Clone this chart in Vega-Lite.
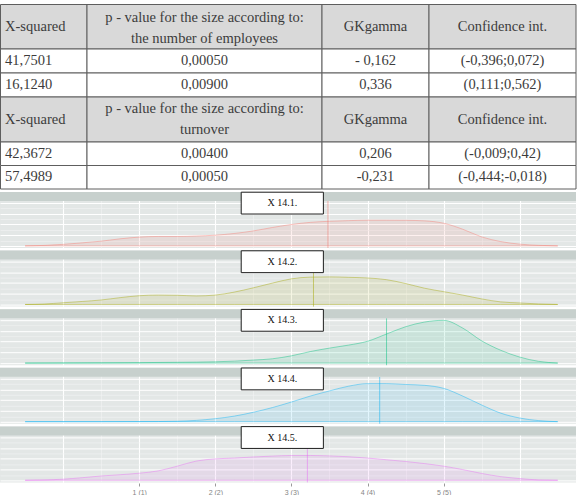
{
  "$schema": "https://vega.github.io/schema/vega-lite/v6.json",
  "padding": 0,
  "background": "#ffffff",
  "spacing": 3,
  "bounds": "flush",
  "config": {"view": {"stroke": null}},
  "datasets": {
    "cells": [
      {"r": 0, "r2": 1, "c": 0, "c2": 1, "hdr": "y", "t": "X-squared"},
      {"r": 0, "r2": 1, "c": 1, "c2": 2, "hdr": "y", "t": "p - value for the size according to:\nthe number of employees"},
      {"r": 0, "r2": 1, "c": 2, "c2": 3, "hdr": "y", "t": "GKgamma"},
      {"r": 0, "r2": 1, "c": 3, "c2": 4, "hdr": "y", "t": "Confidence int."},
      {"r": 1, "r2": 2, "c": 0, "c2": 1, "hdr": "n", "t": "41,7501"},
      {"r": 1, "r2": 2, "c": 1, "c2": 2, "hdr": "n", "t": "0,00050"},
      {"r": 1, "r2": 2, "c": 2, "c2": 3, "hdr": "n", "t": "- 0,162"},
      {"r": 1, "r2": 2, "c": 3, "c2": 4, "hdr": "n", "t": "(-0,396;0,072)"},
      {"r": 2, "r2": 3, "c": 0, "c2": 1, "hdr": "n", "t": "16,1240"},
      {"r": 2, "r2": 3, "c": 1, "c2": 2, "hdr": "n", "t": "0,00900"},
      {"r": 2, "r2": 3, "c": 2, "c2": 3, "hdr": "n", "t": "0,336"},
      {"r": 2, "r2": 3, "c": 3, "c2": 4, "hdr": "n", "t": "(0,111;0,562)"},
      {"r": 3, "r2": 4, "c": 0, "c2": 1, "hdr": "y", "t": "X-squared"},
      {"r": 3, "r2": 4, "c": 1, "c2": 2, "hdr": "y", "t": "p - value for the size according to:\nturnover"},
      {"r": 3, "r2": 4, "c": 2, "c2": 3, "hdr": "y", "t": "GKgamma"},
      {"r": 3, "r2": 4, "c": 3, "c2": 4, "hdr": "y", "t": "Confidence int."},
      {"r": 4, "r2": 5, "c": 0, "c2": 1, "hdr": "n", "t": "42,3672"},
      {"r": 4, "r2": 5, "c": 1, "c2": 2, "hdr": "n", "t": "0,00400"},
      {"r": 4, "r2": 5, "c": 2, "c2": 3, "hdr": "n", "t": "0,206"},
      {"r": 4, "r2": 5, "c": 3, "c2": 4, "hdr": "n", "t": "(-0,009;0,42)"},
      {"r": 5, "r2": 6, "c": 0, "c2": 1, "hdr": "n", "t": "57,4989"},
      {"r": 5, "r2": 6, "c": 1, "c2": 2, "hdr": "n", "t": "0,00050"},
      {"r": 5, "r2": 6, "c": 2, "c2": 3, "hdr": "n", "t": "-0,231"},
      {"r": 5, "r2": 6, "c": 3, "c2": 4, "hdr": "n", "t": "(-0,444;-0,018)"}
    ],
    "dens": [
      {"item": "X 14.1.", "mean": 3.48},
      {"item": "X 14.2.", "mean": 3.29},
      {"item": "X 14.3.", "mean": 4.25},
      {"item": "X 14.4.", "mean": 4.16},
      {"item": "X 14.5.", "mean": 3.21},

      {"item": "X 14.1.", "v": -0.5, "d": 0},
      {"item": "X 14.1.", "v": -0.25, "d": 0.01},
      {"item": "X 14.1.", "v": 0, "d": 0.035},
      {"item": "X 14.1.", "v": 0.25, "d": 0.07},
      {"item": "X 14.1.", "v": 0.5, "d": 0.11},
      {"item": "X 14.1.", "v": 0.75, "d": 0.165},
      {"item": "X 14.1.", "v": 1, "d": 0.205},
      {"item": "X 14.1.", "v": 1.25, "d": 0.22},
      {"item": "X 14.1.", "v": 1.5, "d": 0.22},
      {"item": "X 14.1.", "v": 1.75, "d": 0.23},
      {"item": "X 14.1.", "v": 2, "d": 0.25},
      {"item": "X 14.1.", "v": 2.25, "d": 0.29},
      {"item": "X 14.1.", "v": 2.5, "d": 0.35},
      {"item": "X 14.1.", "v": 2.75, "d": 0.43},
      {"item": "X 14.1.", "v": 3, "d": 0.5},
      {"item": "X 14.1.", "v": 3.25, "d": 0.55},
      {"item": "X 14.1.", "v": 3.5, "d": 0.575},
      {"item": "X 14.1.", "v": 3.75, "d": 0.59},
      {"item": "X 14.1.", "v": 4, "d": 0.6},
      {"item": "X 14.1.", "v": 4.25, "d": 0.6},
      {"item": "X 14.1.", "v": 4.5, "d": 0.598},
      {"item": "X 14.1.", "v": 4.75, "d": 0.585},
      {"item": "X 14.1.", "v": 5, "d": 0.53},
      {"item": "X 14.1.", "v": 5.25, "d": 0.39},
      {"item": "X 14.1.", "v": 5.5, "d": 0.21},
      {"item": "X 14.1.", "v": 5.75, "d": 0.1},
      {"item": "X 14.1.", "v": 6, "d": 0.04},
      {"item": "X 14.1.", "v": 6.25, "d": 0.012},
      {"item": "X 14.1.", "v": 6.5, "d": 0},

      {"item": "X 14.2.", "v": -0.5, "d": 0},
      {"item": "X 14.2.", "v": -0.25, "d": 0.01},
      {"item": "X 14.2.", "v": 0, "d": 0.04},
      {"item": "X 14.2.", "v": 0.25, "d": 0.07},
      {"item": "X 14.2.", "v": 0.5, "d": 0.105},
      {"item": "X 14.2.", "v": 0.75, "d": 0.16},
      {"item": "X 14.2.", "v": 1, "d": 0.205},
      {"item": "X 14.2.", "v": 1.25, "d": 0.22},
      {"item": "X 14.2.", "v": 1.5, "d": 0.215},
      {"item": "X 14.2.", "v": 1.75, "d": 0.2},
      {"item": "X 14.2.", "v": 2, "d": 0.22},
      {"item": "X 14.2.", "v": 2.25, "d": 0.29},
      {"item": "X 14.2.", "v": 2.5, "d": 0.39},
      {"item": "X 14.2.", "v": 2.75, "d": 0.5},
      {"item": "X 14.2.", "v": 3, "d": 0.6},
      {"item": "X 14.2.", "v": 3.25, "d": 0.64},
      {"item": "X 14.2.", "v": 3.5, "d": 0.645},
      {"item": "X 14.2.", "v": 3.75, "d": 0.635},
      {"item": "X 14.2.", "v": 4, "d": 0.62},
      {"item": "X 14.2.", "v": 4.25, "d": 0.58},
      {"item": "X 14.2.", "v": 4.5, "d": 0.49},
      {"item": "X 14.2.", "v": 4.75, "d": 0.38},
      {"item": "X 14.2.", "v": 5, "d": 0.3},
      {"item": "X 14.2.", "v": 5.25, "d": 0.22},
      {"item": "X 14.2.", "v": 5.5, "d": 0.13},
      {"item": "X 14.2.", "v": 5.75, "d": 0.06},
      {"item": "X 14.2.", "v": 6, "d": 0.035},
      {"item": "X 14.2.", "v": 6.25, "d": 0.012},
      {"item": "X 14.2.", "v": 6.5, "d": 0},

      {"item": "X 14.3.", "v": -0.5, "d": 0},
      {"item": "X 14.3.", "v": 0, "d": 0.003},
      {"item": "X 14.3.", "v": 0.5, "d": 0.006},
      {"item": "X 14.3.", "v": 1, "d": 0.01},
      {"item": "X 14.3.", "v": 1.5, "d": 0.018},
      {"item": "X 14.3.", "v": 2, "d": 0.03},
      {"item": "X 14.3.", "v": 2.25, "d": 0.045},
      {"item": "X 14.3.", "v": 2.5, "d": 0.07},
      {"item": "X 14.3.", "v": 2.75, "d": 0.1},
      {"item": "X 14.3.", "v": 3, "d": 0.17},
      {"item": "X 14.3.", "v": 3.25, "d": 0.27},
      {"item": "X 14.3.", "v": 3.5, "d": 0.35},
      {"item": "X 14.3.", "v": 3.75, "d": 0.42},
      {"item": "X 14.3.", "v": 4, "d": 0.51},
      {"item": "X 14.3.", "v": 4.25, "d": 0.68},
      {"item": "X 14.3.", "v": 4.5, "d": 0.85},
      {"item": "X 14.3.", "v": 4.75, "d": 0.96},
      {"item": "X 14.3.", "v": 5, "d": 1.0},
      {"item": "X 14.3.", "v": 5.25, "d": 0.82},
      {"item": "X 14.3.", "v": 5.5, "d": 0.52},
      {"item": "X 14.3.", "v": 5.75, "d": 0.3},
      {"item": "X 14.3.", "v": 6, "d": 0.14},
      {"item": "X 14.3.", "v": 6.25, "d": 0.04},
      {"item": "X 14.3.", "v": 6.5, "d": 0},

      {"item": "X 14.4.", "v": -0.5, "d": 0},
      {"item": "X 14.4.", "v": 0.5, "d": 0},
      {"item": "X 14.4.", "v": 1.25, "d": 0.003},
      {"item": "X 14.4.", "v": 1.5, "d": 0.01},
      {"item": "X 14.4.", "v": 1.75, "d": 0.03},
      {"item": "X 14.4.", "v": 2, "d": 0.07},
      {"item": "X 14.4.", "v": 2.25, "d": 0.13},
      {"item": "X 14.4.", "v": 2.5, "d": 0.22},
      {"item": "X 14.4.", "v": 2.75, "d": 0.33},
      {"item": "X 14.4.", "v": 3, "d": 0.46},
      {"item": "X 14.4.", "v": 3.25, "d": 0.6},
      {"item": "X 14.4.", "v": 3.5, "d": 0.72},
      {"item": "X 14.4.", "v": 3.75, "d": 0.83},
      {"item": "X 14.4.", "v": 4, "d": 0.89},
      {"item": "X 14.4.", "v": 4.25, "d": 0.89},
      {"item": "X 14.4.", "v": 4.5, "d": 0.87},
      {"item": "X 14.4.", "v": 4.75, "d": 0.85},
      {"item": "X 14.4.", "v": 5, "d": 0.78},
      {"item": "X 14.4.", "v": 5.25, "d": 0.6},
      {"item": "X 14.4.", "v": 5.5, "d": 0.39},
      {"item": "X 14.4.", "v": 5.75, "d": 0.2},
      {"item": "X 14.4.", "v": 6, "d": 0.085},
      {"item": "X 14.4.", "v": 6.25, "d": 0.025},
      {"item": "X 14.4.", "v": 6.5, "d": 0},

      {"item": "X 14.5.", "v": -0.5, "d": 0},
      {"item": "X 14.5.", "v": -0.25, "d": 0.008},
      {"item": "X 14.5.", "v": 0, "d": 0.025},
      {"item": "X 14.5.", "v": 0.25, "d": 0.06},
      {"item": "X 14.5.", "v": 0.5, "d": 0.1},
      {"item": "X 14.5.", "v": 0.75, "d": 0.13},
      {"item": "X 14.5.", "v": 1, "d": 0.165},
      {"item": "X 14.5.", "v": 1.25, "d": 0.22},
      {"item": "X 14.5.", "v": 1.5, "d": 0.33},
      {"item": "X 14.5.", "v": 1.75, "d": 0.45},
      {"item": "X 14.5.", "v": 2, "d": 0.5},
      {"item": "X 14.5.", "v": 2.25, "d": 0.52},
      {"item": "X 14.5.", "v": 2.5, "d": 0.545},
      {"item": "X 14.5.", "v": 2.75, "d": 0.565},
      {"item": "X 14.5.", "v": 3, "d": 0.58},
      {"item": "X 14.5.", "v": 3.25, "d": 0.58},
      {"item": "X 14.5.", "v": 3.5, "d": 0.57},
      {"item": "X 14.5.", "v": 3.75, "d": 0.55},
      {"item": "X 14.5.", "v": 4, "d": 0.52},
      {"item": "X 14.5.", "v": 4.25, "d": 0.48},
      {"item": "X 14.5.", "v": 4.5, "d": 0.44},
      {"item": "X 14.5.", "v": 4.75, "d": 0.39},
      {"item": "X 14.5.", "v": 5, "d": 0.33},
      {"item": "X 14.5.", "v": 5.25, "d": 0.25},
      {"item": "X 14.5.", "v": 5.5, "d": 0.16},
      {"item": "X 14.5.", "v": 5.75, "d": 0.085},
      {"item": "X 14.5.", "v": 6, "d": 0.04},
      {"item": "X 14.5.", "v": 6.25, "d": 0.008},
      {"item": "X 14.5.", "v": 6.5, "d": 0}
    ]
  },
  "vconcat": [
    {
      "width": 576,
      "height": 189,
      "data": {"name": "cells"},
      "layer": [
        {
          "mark": {"type": "rect", "stroke": "#5e5e5e", "strokeWidth": 1},
          "encoding": {
            "x": {"field": "c", "type": "quantitative", "axis": null,
                  "scale": {"domain": [0, 1, 2, 3, 4], "range": [0.5, 87, 322, 429, 576], "nice": false, "zero": false}},
            "x2": {"field": "c2"},
            "y": {"field": "r", "type": "quantitative", "axis": null,
                  "scale": {"domain": [0, 1, 2, 3, 4, 5, 6], "range": [4.5, 49, 73, 97, 142, 165.5, 189], "nice": false, "zero": false}},
            "y2": {"field": "r2"},
            "fill": {"field": "hdr", "type": "nominal", "legend": null,
                     "scale": {"domain": ["y", "n"], "range": ["#d9d9d9", "#ffffff"]}}
          }
        },
        {
          "transform": [{"filter": "datum.c == 0"}],
          "mark": {"type": "text", "align": "left", "baseline": "middle", "font": "Liberation Serif", "fontSize": 14.5, "color": "#3c3c3c"},
          "encoding": {
            "x": {"field": "c", "type": "quantitative", "axis": null,
                  "scale": {"domain": [0, 1], "range": [5, 92], "nice": false, "zero": false}},
            "y": {"field": "r", "type": "quantitative", "axis": null,
                  "scale": {"domain": [0, 1, 2, 3, 4, 5], "range": [27, 61, 85, 119.5, 153.75, 177.25], "nice": false, "zero": false}},
            "text": {"field": "t"}
          }
        },
        {
          "transform": [{"filter": "datum.c > 0 && !(datum.c == 1 && datum.hdr == 'y')"}],
          "mark": {"type": "text", "align": "center", "baseline": "middle", "font": "Liberation Serif", "fontSize": 14.5, "color": "#3c3c3c"},
          "encoding": {
            "x": {"field": "c", "type": "quantitative", "axis": null,
                  "scale": {"domain": [1, 2, 3], "range": [204.5, 375.5, 502.5], "nice": false, "zero": false}},
            "y": {"field": "r", "type": "quantitative", "axis": null,
                  "scale": {"domain": [0, 1, 2, 3, 4, 5], "range": [27, 61, 85, 119.5, 153.75, 177.25], "nice": false, "zero": false}},
            "text": {"field": "t"}
          }
        },
        {
          "transform": [{"filter": "datum.c == 1 && datum.hdr == 'y'"}],
          "mark": {"type": "text", "align": "center", "baseline": "middle", "font": "Liberation Serif", "fontSize": 14.5, "color": "#3c3c3c", "lineBreak": "\n", "lineHeight": 21},
          "encoding": {
            "x": {"field": "c", "type": "quantitative", "axis": null,
                  "scale": {"domain": [0, 1], "range": [0, 204.5], "nice": false, "zero": false}},
            "y": {"field": "r", "type": "quantitative", "axis": null,
                  "scale": {"domain": [0, 3], "range": [18, 109], "nice": false, "zero": false}},
            "text": {"field": "t"}
          }
        }
      ],
      "resolve": {"scale": {"x": "independent", "y": "independent"}}
    },
    {
      "data": {"name": "dens"},
      "facet": {"row": {"field": "item", "type": "nominal", "header": null}},
      "spacing": 2.6,
      "bounds": "flush",
      "spec": {
        "width": 576,
        "height": 56,
        "view": {"fill": "#e3e7e6", "stroke": null},
        "layer": [
          {
            "transform": [{"filter": "isValid(datum.d)"}],
            "mark": {"type": "area", "interpolate": "monotone", "fillOpacity": 0.11, "strokeOpacity": 0.42, "strokeWidth": 1},
            "encoding": {
              "x": {"field": "v", "type": "quantitative",
                    "scale": {"domain": [-0.83, 6.74], "nice": false, "zero": false},
                    "axis": {"orient": "bottom", "values": [0, 1, 2, 3, 4, 5, 6], "title": null, "domain": false,
                             "labelExpr": "datum.value >= 1 && datum.value <= 5 ? datum.value + ' (' + datum.value + ')' : ''",
                             "grid": true, "gridColor": "#ffffff", "gridWidth": 1.1,
                             "tickSize": 3, "tickColor": {"condition": {"test": "datum.value < 1 || datum.value > 5", "value": "transparent"}, "value": "#9a9a9a"},
                             "labelFont": "Liberation Sans", "labelFontSize": 7, "labelColor": "#858585", "labelPadding": 2}},
              "y": {"field": "d", "type": "quantitative",
                    "scale": {"domain": [-0.05, 1.2606], "nice": false, "zero": false},
                    "axis": {"orient": "left", "values": [0, 0.25, 0.5, 0.75, 1], "title": null, "labels": false, "ticks": false, "domain": false,
                             "grid": true, "gridColor": "#ffffff", "gridWidth": 1}},
              "color": {"field": "item", "type": "nominal", "legend": null,
                        "scale": {"domain": ["X 14.1.", "X 14.2.", "X 14.3.", "X 14.4.", "X 14.5."],
                                  "range": ["#F8766D", "#A3A500", "#00BF7D", "#00B0F6", "#E76BF3"]}},
              "stroke": {"field": "item", "type": "nominal", "legend": null,
                         "scale": {"domain": ["X 14.1.", "X 14.2.", "X 14.3.", "X 14.4.", "X 14.5."],
                                   "range": ["#F8766D", "#A3A500", "#00BF7D", "#00B0F6", "#E76BF3"]}}
            }
          },
          {
            "transform": [{"filter": "isValid(datum.mean)"}],
            "mark": {"type": "rule", "strokeWidth": 1, "opacity": 0.5},
            "encoding": {
              "x": {"field": "mean", "type": "quantitative",
                    "axis": {"orient": "bottom", "values": [0.5, 1.5, 2.5, 3.5, 4.5, 5.5], "title": null, "labels": false, "ticks": false, "domain": false,
                             "grid": true, "gridColor": "#f1f3f3", "gridWidth": 0.6}},
              "y": {"datum": -0.05, "type": "quantitative",
                    "axis": {"orient": "left", "values": [0.125, 0.375, 0.625, 0.875], "title": null, "labels": false, "ticks": false, "domain": false,
                             "grid": true, "gridColor": "#f1f3f3", "gridWidth": 0.6}},
              "y2": {"datum": 1.05},
              "color": {"field": "item", "type": "nominal", "legend": null}
            }
          },
          {
            "transform": [{"filter": "isValid(datum.mean)"}],
            "mark": {"type": "rect", "fill": "#c7d0cd"},
            "encoding": {
              "x": {"datum": -0.83, "type": "quantitative", "axis": null},
              "x2": {"datum": 6.74},
              "y": {"datum": 1.05, "type": "quantitative", "axis": null},
              "y2": {"datum": 1.2606}
            }
          },
          {
            "transform": [{"filter": "isValid(datum.mean)"}],
            "mark": {"type": "rect", "fill": "#ffffff", "stroke": "#1e1e1e", "strokeWidth": 1},
            "encoding": {
              "x": {"datum": 2.34, "type": "quantitative", "axis": null},
              "x2": {"datum": 3.42},
              "y": {"datum": 1.256, "type": "quantitative", "axis": null},
              "y2": {"datum": 0.745}
            }
          },
          {
            "transform": [{"filter": "isValid(datum.mean)"}],
            "mark": {"type": "text", "font": "Liberation Serif", "fontSize": 10, "color": "#111111", "baseline": "middle"},
            "encoding": {
              "x": {"datum": 2.88, "type": "quantitative", "axis": null},
              "y": {"datum": 1.0, "type": "quantitative", "axis": null},
              "text": {"field": "item"}
            }
          }
        ],
        "resolve": {"axis": {"x": "independent", "y": "independent"}}
      }
    }
  ]
}
